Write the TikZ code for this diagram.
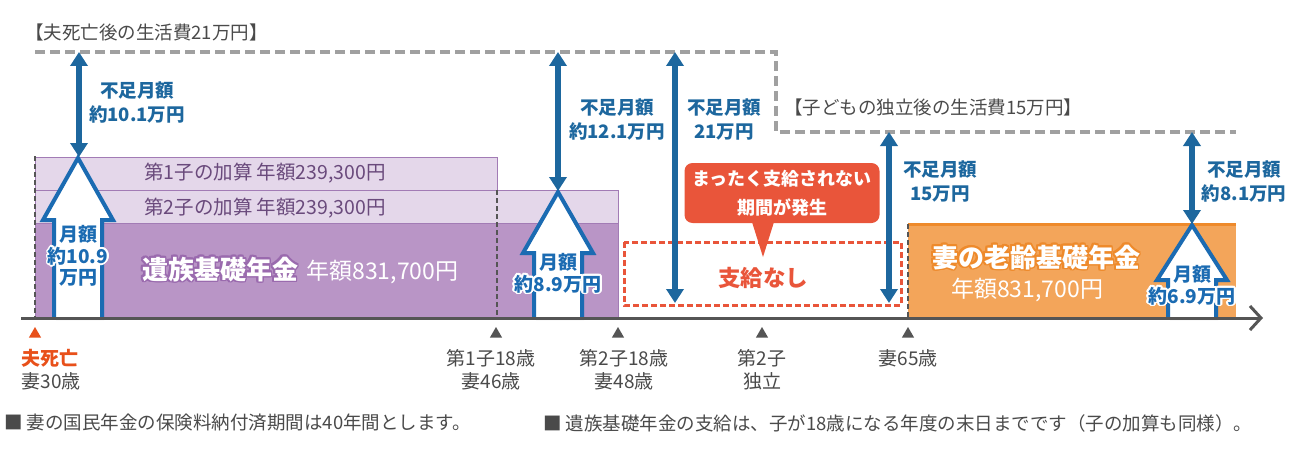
\documentclass[tikz,border=0pt]{standalone}
\usepackage{fontspec}
\setmainfont{Noto Sans CJK JP}
\usepackage{contour}
\contourlength{1.8pt}
\usetikzlibrary{positioning,arrows.meta,shapes.geometric,shadows}

\definecolor{lifegray}{HTML}{A0A0A0}
\definecolor{axisgray}{HTML}{555555}
\definecolor{textgray}{HTML}{4A4A4A}
\definecolor{gapblue}{HTML}{1D679E}
\definecolor{armblue}{HTML}{1B6BB2}
\definecolor{survpurple}{HTML}{B995C6}
\definecolor{addpurple}{HTML}{E4D7EA}
\definecolor{edgepurple}{HTML}{A27BB5}
\definecolor{glowpurple}{HTML}{9A6AAE}
\definecolor{addtext}{HTML}{6A4A7C}
\definecolor{oldorange}{HTML}{F3A55A}
\definecolor{edgeorange}{HTML}{EE8A2B}
\definecolor{alertred}{HTML}{E9553A}
\definecolor{deathorange}{HTML}{E8501A}

\tikzset{
  lifeline/.style={draw=lifegray, line width=4pt, dash pattern=on 10pt off 5pt},
  shortfall/.style={draw=gapblue, line width=6.5pt,
    {Triangle[length=14pt,width=17pt]}-{Triangle[length=14pt,width=17pt]}},
  shortlabel/.style={text=gapblue, font=\fontsize{18.5}{24}\selectfont\bfseries, align=center, inner sep=0pt},
  titletext/.style={text=textgray, font=\fontsize{18.5}{22}\selectfont, inner sep=0pt, anchor=west},
  addband/.style={fill=addpurple, draw=edgepurple, line width=1pt},
  addlabel/.style={text=addtext, font=\fontsize{19.5}{22}\selectfont, inner sep=0pt},
  agedash/.style={draw=axisgray, line width=2pt, dash pattern=on 5pt off 3pt},
  pensionup/.style={fill=white, draw=armblue, line width=4pt, line join=miter,
    drop shadow={shadow xshift=2pt, shadow yshift=-2pt, opacity=0.3}},
  armlabel/.style={text=armblue, font=\fontsize{19}{21.5}\selectfont\bfseries, align=center, inner sep=0pt},
  bigtitle/.style={text=white, font=\fontsize{26}{28}\selectfont\bfseries, inner sep=0pt},
  amount/.style={text=white, font=\fontsize{23}{26}\selectfont, inner sep=0pt},
  axis/.style={draw=axisgray, line width=3pt, -{Straight Barb[length=11pt,width=24pt]}},
  ticker/.style={regular polygon, regular polygon sides=3, minimum size=14pt, inner sep=0pt, fill=axisgray},
  ticklabel/.style={text=textgray, font=\fontsize{19}{23}\selectfont, align=center},
  notetext/.style={text=textgray, font=\fontsize{18.5}{22}\selectfont, inner sep=0pt, anchor=west},
}

\newcommand{\pensionarrow}[3]{%
  \filldraw[pensionup] (#1-24,318) -- (#1-24,#3) -- (#1-35,#3) -- (#1,#2)
    -- (#1+35,#3) -- (#1+24,#3) -- (#1+24,318);}

\begin{document}
\begin{tikzpicture}[x=1pt, y=-1pt]
	\useasboundingbox (0,0) rectangle (1310,452);

	% pension blocks
	\filldraw[addband] (35,157) rectangle (497,190);
	\filldraw[addband] (35,190) rectangle (618,223);
	\filldraw[fill=survpurple, draw=edgepurple, line width=1pt] (35,223) rectangle (618,318);
	\fill[oldorange] (908,224) rectangle (1236,318);
	\draw[edgeorange, line width=3pt] (908,224) -- (1236,224);
	\draw[agedash] (35,156) -- (35,318);
	\draw[agedash] (497,190) -- (497,318);
	\draw[agedash] (908,224) -- (908,318);

	\node[addlabel] (child1) at (265,173) {第1子の加算 年額239,300円};
	\node[addlabel] (child2) at (265,208) {第2子の加算 年額239,300円};
	\node[bigtitle] (surv) at (220,270) {\contour{glowpurple}{遺族基礎年金}};
	\node[amount, anchor=base west] (survsum) at ([xshift=8pt]surv.base east) {年額831,700円};
	\node[bigtitle] (old) at (1036,258) {\contour{edgeorange}{妻の老齢基礎年金}};
	\node[amount] (oldsum) at (1027,290) {年額831,700円};

	% living cost lines
	\draw[lifeline] (35,52) -- (776,52) -- (776,132) -- (1236,132);
	\node[titletext] (cost21) at (25,32) {【夫死亡後の生活費21万円】};
	\node[titletext] (cost15) at (784,107) {【子どもの独立後の生活費15万円】};

	% monthly income
	\pensionarrow{78}{158}{220}
	\pensionarrow{558}{192}{253}
	\pensionarrow{1192}{225}{280}
	\node[armlabel] (arm1) at (78,257) {\contour{white}{月額}\\\contour{white}{約10.9}\\\contour{white}{万円}};
	\node[armlabel] (arm2) at (558,274) {\contour{white}{月額}\\\contour{white}{約8.9万円}};
	\node[armlabel] (arm3) at (1192,286) {\contour{white}{月額}\\\contour{white}{約6.9万円}};

	% no payment period
	\draw[alertred, line width=3pt, dash pattern=on 6pt off 3pt] (624,242) rectangle (901,305);
	\node[text=alertred, font=\fontsize{22.5}{24}\selectfont\bfseries] (nopay) at (763,278) {支給なし};
	\node[fill=alertred, rounded corners=8pt, minimum width=195pt, minimum height=60pt,
		text=white, font=\fontsize{18}{29}\selectfont\bfseries, align=center] (warn) at (782,193)
		{まったく支給されない\\期間が発生};
	\fill[alertred] (752,222) -- (763,257) -- (774,222) -- cycle;

	% shortfalls
	\coordinate (need1) at (79,52);   \coordinate (base1) at (79,157);
	\coordinate (need2) at (558,52);  \coordinate (base2) at (558,191);
	\coordinate (need3) at (675,52);  \coordinate (base3) at (675,303);
	\coordinate (need4) at (889,132); \coordinate (base4) at (889,303);
	\coordinate (need5) at (1192,132);\coordinate (base5) at (1192,224);
	\draw[shortfall] (need1) -- (base1);
	\draw[shortfall] (need2) -- (base2);
	\draw[shortfall] (need3) -- (base3);
	\draw[shortfall] (need4) -- (base4);
	\draw[shortfall] (need5) -- (base5);
	\node[shortlabel] (gap1) at (137,103) {不足月額\\約10.1万円};
	\node[shortlabel] (gap2) at (617,120) {不足月額\\約12.1万円};
	\node[shortlabel] (gap3) at (724,120) {不足月額\\21万円};
	\node[shortlabel] (gap4) at (940,182) {不足月額\\15万円};
	\node[shortlabel] (gap5) at (1244,182) {不足月額\\約8.1万円};

	% time axis
	\coordinate (start) at (21,318);
	\coordinate (end) at (1263,318);
	\draw[axis] (start) -- (end);
	\node[ticker, fill=deathorange] (m30) at (35,334) {};
	\node[ticker] (m46) at (496,334) {};
	\node[ticker] (m48) at (618,334) {};
	\node[ticker] (mind) at (762,334) {};
	\node[ticker] (m65) at (908,334) {};
	\node[ticklabel, align=left, below=8pt of m30, anchor=north west, xshift=-17pt] (l30)
		{\textcolor{deathorange}{\bfseries 夫死亡}\\妻30歳};
	\node[ticklabel, below=8pt of m46, xshift=-5pt] (l46) {第1子18歳\\妻46歳};
	\node[ticklabel, below=8pt of m48, xshift=6pt] (l48) {第2子18歳\\妻48歳};
	\node[ticklabel, below=8pt of mind] (lind) {第2子\\独立};
	\node[ticklabel, below=8pt of m65] (l65) {妻65歳};

	% notes
	\node[notetext] (note1) at (4,423) {■ 妻の国民年金の保険料納付済期間は40年間とします。};
	\node[notetext] (note2) at (543,423) {■ 遺族基礎年金の支給は、子が18歳になる年度の末日までです（子の加算も同様）。};
\end{tikzpicture}
\end{document}
